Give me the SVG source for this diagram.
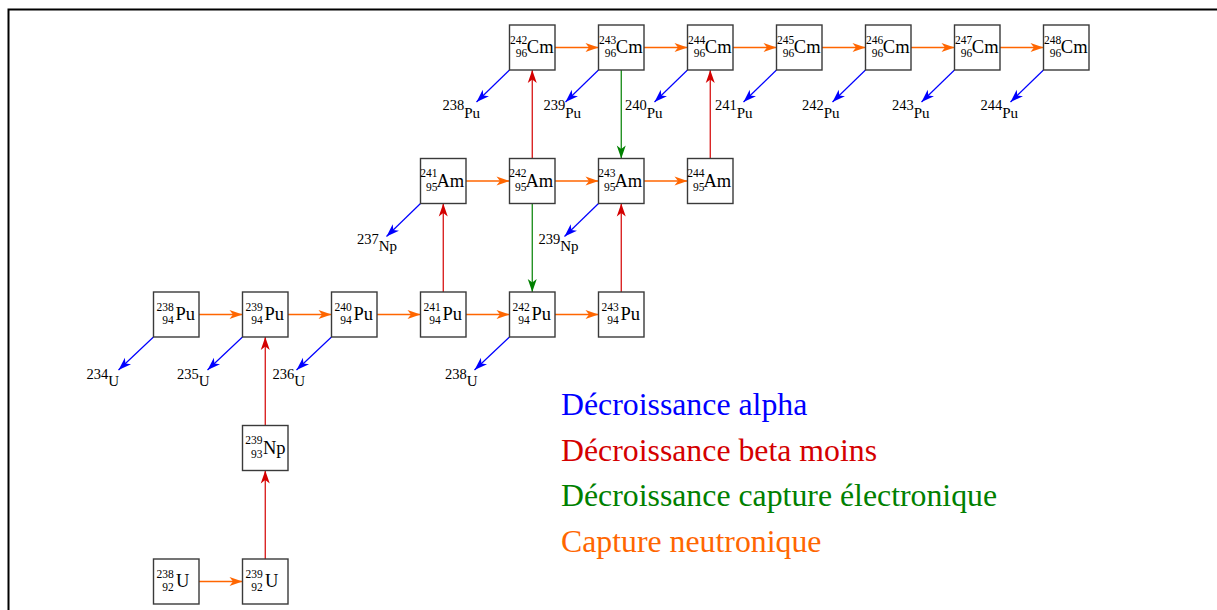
<svg xmlns="http://www.w3.org/2000/svg" width="1217" height="610" viewBox="0 0 1217 610">
<style>
.box{fill:#fff;stroke:#3a3a3a;stroke-width:1.4}
.m{font-family:"Liberation Serif",serif;font-size:11.5px;text-anchor:end;fill:#000}
.s{font-family:"Liberation Serif",serif;font-size:18.5px;fill:#000}
.lab{font-family:"Liberation Serif",serif;font-size:14.5px;fill:#000}
.el{font-size:15px}
.n{stroke:#ff6600;stroke-width:1.3;fill:none;marker-end:url(#aO)}
.b{stroke:#d40000;stroke-width:1.2;fill:none;marker-end:url(#aR)}
.g{stroke:#008000;stroke-width:1.2;fill:none;marker-end:url(#aG)}
.a{stroke:#0000ff;stroke-width:1.2;fill:none;marker-end:url(#aB)}
.leg{font-family:"Liberation Serif",serif;font-size:31.8px}
</style>
<defs>
<marker id="aO" markerUnits="userSpaceOnUse" markerWidth="16" markerHeight="12" viewBox="-14 -6 16 12" refX="0" refY="0" orient="auto"><path d="M0,0 L-13,-4.5 L-9.5,0 L-13,4.5 Z" fill="#ff6600"/></marker>
<marker id="aR" markerUnits="userSpaceOnUse" markerWidth="16" markerHeight="12" viewBox="-14 -6 16 12" refX="0" refY="0" orient="auto"><path d="M0,0 L-13,-4.5 L-9.5,0 L-13,4.5 Z" fill="#d40000"/></marker>
<marker id="aG" markerUnits="userSpaceOnUse" markerWidth="16" markerHeight="12" viewBox="-14 -6 16 12" refX="0" refY="0" orient="auto"><path d="M0,0 L-13,-4.5 L-9.5,0 L-13,4.5 Z" fill="#008000"/></marker>
<marker id="aB" markerUnits="userSpaceOnUse" markerWidth="16" markerHeight="12" viewBox="-14 -6 16 12" refX="0" refY="0" orient="auto"><path d="M0,0 L-13,-4.5 L-9.5,0 L-13,4.5 Z" fill="#0000ff"/></marker>
</defs>
<rect x="8.5" y="9.5" width="1230" height="620" fill="#fff" stroke="#000" stroke-width="2"/>

<g id="connectors">
<g id="neutron-capture">
<line class="n" x1="555" y1="47.5" x2="598.5" y2="47.5"/>
<line class="n" x1="644" y1="47.5" x2="687.5" y2="47.5"/>
<line class="n" x1="733" y1="47.5" x2="776.5" y2="47.5"/>
<line class="n" x1="822" y1="47.5" x2="865.5" y2="47.5"/>
<line class="n" x1="911" y1="47.5" x2="954.5" y2="47.5"/>
<line class="n" x1="1000" y1="47.5" x2="1043.5" y2="47.5"/>
<line class="n" x1="466" y1="181" x2="509.5" y2="181"/>
<line class="n" x1="555" y1="181" x2="598.5" y2="181"/>
<line class="n" x1="644" y1="181" x2="687.5" y2="181"/>
<line class="n" x1="199" y1="314.5" x2="242.5" y2="314.5"/>
<line class="n" x1="288" y1="314.5" x2="331.5" y2="314.5"/>
<line class="n" x1="377" y1="314.5" x2="420.5" y2="314.5"/>
<line class="n" x1="466" y1="314.5" x2="509.5" y2="314.5"/>
<line class="n" x1="555" y1="314.5" x2="598.5" y2="314.5"/>
<line class="n" x1="199" y1="581.5" x2="242.5" y2="581.5"/>
</g>
<g id="beta-minus">
<line class="b" x1="265.25" y1="559" x2="265.25" y2="470.5"/>
<line class="b" x1="265.25" y1="425.5" x2="265.25" y2="337"/>
<line class="b" x1="443.25" y1="292" x2="443.25" y2="203.5"/>
<line class="b" x1="621.25" y1="292" x2="621.25" y2="203.5"/>
<line class="b" x1="532.25" y1="158.5" x2="532.25" y2="70"/>
<line class="b" x1="710.25" y1="158.5" x2="710.25" y2="70"/>
</g>
<g id="electron-capture">
<line class="g" x1="621.25" y1="70" x2="621.25" y2="158.5"/>
<line class="g" x1="532.25" y1="203.5" x2="532.25" y2="292"/>
</g>
<g id="alpha">
<line class="a" x1="153.5" y1="337" x2="118.5" y2="370"/>
<line class="a" x1="242.5" y1="337" x2="207.5" y2="370"/>
<line class="a" x1="331.5" y1="337" x2="296.5" y2="370"/>
<line class="a" x1="509.5" y1="337" x2="474.5" y2="370"/>
<line class="a" x1="420.5" y1="203.5" x2="386.5" y2="236.5"/>
<line class="a" x1="598.5" y1="203.5" x2="564.5" y2="236.5"/>
<line class="a" x1="509.5" y1="70" x2="476.5" y2="102"/>
<line class="a" x1="598.5" y1="70" x2="565.5" y2="102"/>
<line class="a" x1="687.5" y1="70" x2="654.5" y2="102"/>
<line class="a" x1="776.5" y1="70" x2="743.5" y2="102"/>
<line class="a" x1="865.5" y1="70" x2="832.5" y2="102"/>
<line class="a" x1="954.5" y1="70" x2="921.5" y2="102"/>
<line class="a" x1="1043.5" y1="70" x2="1010.5" y2="102"/>
</g>
</g>

<g id="alpha-products">
<text class="lab" x="86.5" y="379">234<tspan class="el" dy="7">U</tspan></text>
<text class="lab" x="177" y="379">235<tspan class="el" dy="7">U</tspan></text>
<text class="lab" x="272.5" y="379">236<tspan class="el" dy="7">U</tspan></text>
<text class="lab" x="445" y="379">238<tspan class="el" dy="7">U</tspan></text>
<text class="lab" x="357" y="244">237<tspan class="el" dy="7">Np</tspan></text>
<text class="lab" x="538.5" y="244">239<tspan class="el" dy="7">Np</tspan></text>
<text class="lab" x="442.5" y="110">238<tspan class="el" dy="8">Pu</tspan></text>
<text class="lab" x="543.5" y="110">239<tspan class="el" dy="8">Pu</tspan></text>
<text class="lab" x="625" y="110">240<tspan class="el" dy="8">Pu</tspan></text>
<text class="lab" x="715" y="110">241<tspan class="el" dy="8">Pu</tspan></text>
<text class="lab" x="802" y="110">242<tspan class="el" dy="8">Pu</tspan></text>
<text class="lab" x="892" y="110">243<tspan class="el" dy="8">Pu</tspan></text>
<text class="lab" x="980.5" y="110">244<tspan class="el" dy="8">Pu</tspan></text>
</g>

<g id="Cm242" transform="translate(509.5,25)"><rect class="box" width="45.5" height="45"/><text class="m" x="17.8" y="18.5">242</text><text class="m" x="17.8" y="32">96</text><text class="s" x="17.3" y="28">Cm</text></g>
<g id="Cm243" transform="translate(598.5,25)"><rect class="box" width="45.5" height="45"/><text class="m" x="17.8" y="18.5">243</text><text class="m" x="17.8" y="32">96</text><text class="s" x="17.3" y="28">Cm</text></g>
<g id="Cm244" transform="translate(687.5,25)"><rect class="box" width="45.5" height="45"/><text class="m" x="17.8" y="18.5">244</text><text class="m" x="17.8" y="32">96</text><text class="s" x="17.3" y="28">Cm</text></g>
<g id="Cm245" transform="translate(776.5,25)"><rect class="box" width="45.5" height="45"/><text class="m" x="17.8" y="18.5">245</text><text class="m" x="17.8" y="32">96</text><text class="s" x="17.3" y="28">Cm</text></g>
<g id="Cm246" transform="translate(865.5,25)"><rect class="box" width="45.5" height="45"/><text class="m" x="17.8" y="18.5">246</text><text class="m" x="17.8" y="32">96</text><text class="s" x="17.3" y="28">Cm</text></g>
<g id="Cm247" transform="translate(954.5,25)"><rect class="box" width="45.5" height="45"/><text class="m" x="17.8" y="18.5">247</text><text class="m" x="17.8" y="32">96</text><text class="s" x="17.3" y="28">Cm</text></g>
<g id="Cm248" transform="translate(1043.5,25)"><rect class="box" width="45.5" height="45"/><text class="m" x="17.8" y="18.5">248</text><text class="m" x="17.8" y="32">96</text><text class="s" x="17.3" y="28">Cm</text></g>

<g id="Am241" transform="translate(420.5,158.5)"><rect class="box" width="45.5" height="45"/><text class="m" x="17" y="18.5">241</text><text class="m" x="17" y="32">95</text><text class="s" x="16" y="28">Am</text></g>
<g id="Am242" transform="translate(509.5,158.5)"><rect class="box" width="45.5" height="45"/><text class="m" x="17" y="18.5">242</text><text class="m" x="17" y="32">95</text><text class="s" x="16" y="28">Am</text></g>
<g id="Am243" transform="translate(598.5,158.5)"><rect class="box" width="45.5" height="45"/><text class="m" x="17" y="18.5">243</text><text class="m" x="17" y="32">95</text><text class="s" x="16" y="28">Am</text></g>
<g id="Am244" transform="translate(687.5,158.5)"><rect class="box" width="45.5" height="45"/><text class="m" x="17" y="18.5">244</text><text class="m" x="17" y="32">95</text><text class="s" x="16" y="28">Am</text></g>

<g id="Pu238" transform="translate(153.5,292)"><rect class="box" width="45.5" height="45"/><text class="m" x="20.2" y="18.5">238</text><text class="m" x="20.2" y="32">94</text><text class="s" x="22" y="28">Pu</text></g>
<g id="Pu239" transform="translate(242.5,292)"><rect class="box" width="45.5" height="45"/><text class="m" x="20.2" y="18.5">239</text><text class="m" x="20.2" y="32">94</text><text class="s" x="22" y="28">Pu</text></g>
<g id="Pu240" transform="translate(331.5,292)"><rect class="box" width="45.5" height="45"/><text class="m" x="20.2" y="18.5">240</text><text class="m" x="20.2" y="32">94</text><text class="s" x="22" y="28">Pu</text></g>
<g id="Pu241" transform="translate(420.5,292)"><rect class="box" width="45.5" height="45"/><text class="m" x="20.2" y="18.5">241</text><text class="m" x="20.2" y="32">94</text><text class="s" x="22" y="28">Pu</text></g>
<g id="Pu242" transform="translate(509.5,292)"><rect class="box" width="45.5" height="45"/><text class="m" x="20.2" y="18.5">242</text><text class="m" x="20.2" y="32">94</text><text class="s" x="22" y="28">Pu</text></g>
<g id="Pu243" transform="translate(598.5,292)"><rect class="box" width="45.5" height="45"/><text class="m" x="20.2" y="18.5">243</text><text class="m" x="20.2" y="32">94</text><text class="s" x="22" y="28">Pu</text></g>

<g id="Np239" transform="translate(242.5,425.5)"><rect class="box" width="45.5" height="45"/><text class="m" x="20" y="18.5">239</text><text class="m" x="20" y="32">93</text><text class="s" x="20.5" y="28">Np</text></g>

<g id="U238" transform="translate(153.5,559)"><rect class="box" width="45.5" height="45"/><text class="m" x="20.2" y="18.5">238</text><text class="m" x="20.2" y="32">92</text><text class="s" x="22.5" y="28">U</text></g>
<g id="U239" transform="translate(242.5,559)"><rect class="box" width="45.5" height="45"/><text class="m" x="20.2" y="18.5">239</text><text class="m" x="20.2" y="32">92</text><text class="s" x="22.5" y="28">U</text></g>

<g id="legend">
<text class="leg" x="561" y="415" fill="#0000ff">Décroissance alpha</text>
<text class="leg" x="561" y="460.5" fill="#d40000">Décroissance beta moins</text>
<text class="leg" x="561" y="506" fill="#008000">Décroissance capture électronique</text>
<text class="leg" x="561" y="551.5" fill="#ff6600">Capture neutronique</text>
</g>
</svg>
